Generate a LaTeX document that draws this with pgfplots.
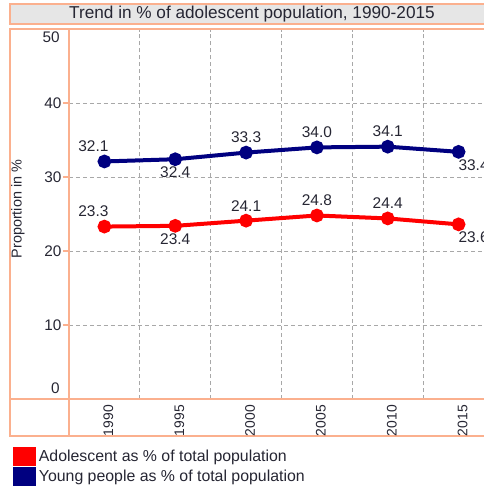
\documentclass[border=0pt]{standalone}
\usepackage{pgfplots}
\pgfplotsset{compat=1.18}
\usepackage{pgfplotstable}
\usepackage{fontspec}
\setmainfont{Liberation Sans}
\definecolor{frameline}{HTML}{FBB08E}
\definecolor{titlefill}{HTML}{E6E6E6}
\definecolor{gridgray}{HTML}{A8A8A8}
\definecolor{ink}{HTML}{262633}
\definecolor{adored}{HTML}{FF0000}
\definecolor{youngblue}{HTML}{000080}

% x = category index, dx/dy = label offset in px
\pgfplotstableread{
x y dx dy
0 23.3 -11 15
1 23.4 0 -13
2 24.1 0 15
3 24.8 0 15
4 24.4 0 15
5 23.6 15 -13
}\adolescent
\pgfplotstableread{
x y dx dy
0 32.1 -11 15
1 32.4 0 -13
2 33.3 0 15
3 34.0 0 15
4 34.1 0 15
5 33.4 15 -13
}\young

\pgfplotsset{
  vallabels/.style={
    draw=none, mark=none, forget plot,
    point meta=y,
    nodes near coords,
    visualization depends on={\thisrow{dx} \as \dx},
    visualization depends on={\thisrow{dy} \as \dy},
    every node near coord/.append style={anchor=center, color=ink,
      font=\fontsize{11.6}{13}\selectfont,
      xshift=\dx*0.75pt, yshift=\dy*0.75pt,
      /pgf/number format/fixed, /pgf/number format/fixed zerofill,
      /pgf/number format/precision=1, /pgf/number format/assume math mode=true},
  },
}

\begin{document}
\begin{tikzpicture}[x=0.75pt, y=0.75pt]
\useasboundingbox (0,0) rectangle (483,486);
% title bar
\draw[frameline, line width=0.9pt, fill=titlefill] (10,462) rectangle (494,482);
\node[ink, font=\fontsize{12.9}{14}\selectfont] at (252,472) {Trend in \% of adolescent population, 1990-2015};
% table frame
\draw[frameline, line width=0.9pt] (10,50) rectangle (494,457);
\draw[frameline, line width=0.9pt] (69,50) -- (69,457);
\draw[frameline, line width=0.9pt] (10,87) -- (494,87);
\node[ink, rotate=90, font=\fontsize{10.8}{12}\selectfont] at (18,277) {Proportion in \%};
\node[ink, anchor=east, inner sep=0pt, font=\fontsize{11.5}{13}\selectfont] at (60,449) {50};
\node[ink, anchor=east, inner sep=0pt, font=\fontsize{11.5}{13}\selectfont] at (60,98) {0};

\begin{axis}[
  at={(51.75pt,65.25pt)}, anchor=south west,
  scale only axis, width=318.75pt, height=277.5pt,
  xmin=-0.5, xmax=5.5, ymin=0, ymax=50,
  xtick={0,...,5}, xticklabels={1990,1995,2000,2005,2010,2015},
  minor xtick={0.5,1.5,2.5,3.5,4.5},
  xminorgrids, ymajorgrids,
  ytick={10,20,30,40},
  /pgf/number format/assume math mode=true,
  grid style={gridgray, dash pattern=on 3pt off 2.2pt, line width=0.6pt},
  minor grid style={gridgray, dash pattern=on 3pt off 2.2pt, line width=0.6pt},
  axis line style={frameline, line width=0.9pt},
  x tick style={draw=none}, minor x tick style={draw=none},
  y tick style={frameline, line width=0.9pt},
  tick align=outside, major tick length=4.5pt,
  xticklabel style={rotate=90, anchor=east, inner sep=0pt, yshift=-3pt,
    font=\fontsize{10.4}{12}\selectfont, color=ink},
  yticklabel style={anchor=east, inner sep=0pt, xshift=-1pt,
    font=\fontsize{11.5}{13}\selectfont, color=ink},
  clip=false,
  legend style={at={(-0.1318,-0.1297)}, anchor=north west, draw=none, fill=none,
    inner sep=0pt, row sep=0.5pt, font=\fontsize{11.9}{13}\selectfont,
    text=ink, /tikz/every even column/.append style={column sep=0pt}},
  legend cell align=left,
  legend image code/.code={\fill[#1] (0pt,-5.6pt) rectangle (14.25pt,5.6pt);},
]
\addplot[adored, line width=3pt, mark=*, mark size=3.6pt] table[x=x, y=y] {\adolescent};
\addplot[youngblue, line width=3pt, mark=*, mark size=3.6pt] table[x=x, y=y] {\young};
\addplot[vallabels] table[x=x, y=y] {\adolescent};
\addplot[vallabels] table[x=x, y=y] {\young};
\legend{Adolescent as \% of total population, Young people as \% of total population}
\end{axis}
\end{tikzpicture}
\end{document}
